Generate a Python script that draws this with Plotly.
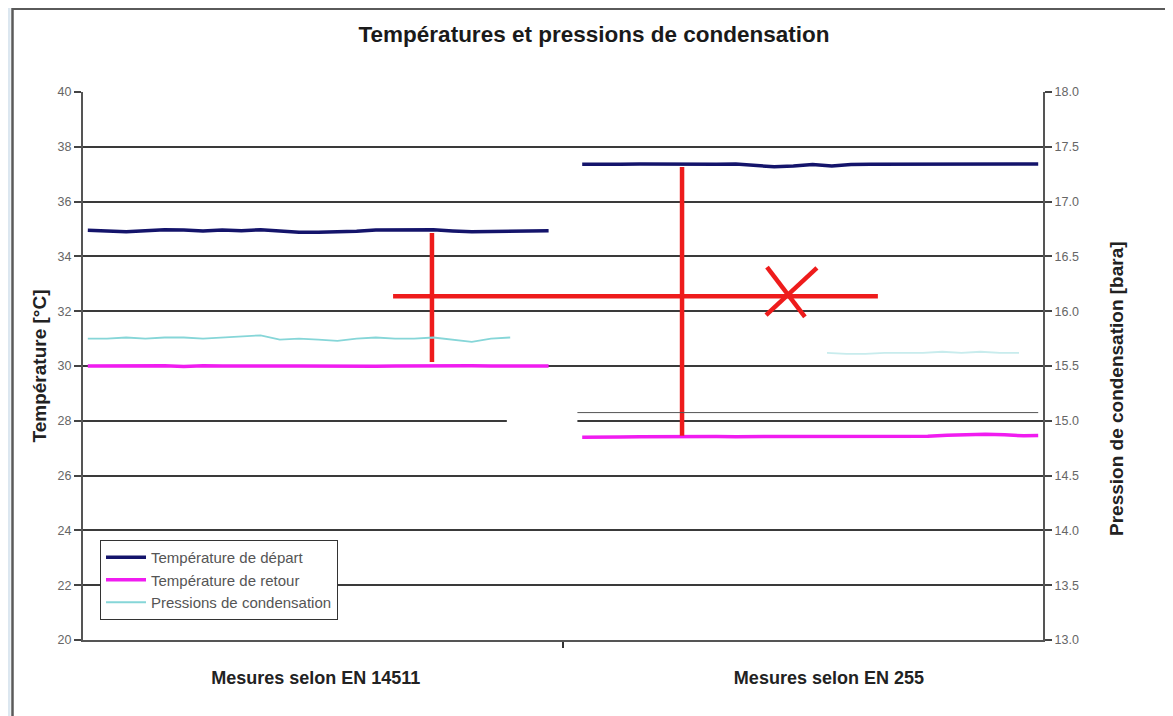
import plotly.graph_objects as go

# --- data ----------------------------------------------------------------
categories = ["Mesures selon EN 14511", "Mesures selon EN 255"]

x_left = [0.01, 0.05, 0.09, 0.13, 0.17, 0.21, 0.25, 0.29, 0.33, 0.37, 0.41, 0.45, 0.49,
          0.53, 0.57, 0.61, 0.65, 0.69, 0.73, 0.77, 0.81, 0.85, 0.89, 0.93, 0.97]
depart_left = [34.95, 34.93, 34.90, 34.94, 34.97, 34.96, 34.93, 34.96, 34.94, 34.97, 34.93, 34.88, 34.88,
               34.89, 34.92, 34.96, 34.96, 34.95, 34.97, 34.93, 34.90, 34.91, 34.92, 34.93, 34.94]
retour_left = [30.00, 30.01, 29.99, 30.00, 30.01, 29.98, 30.01, 30.00, 29.99, 30.01, 30.00, 30.00, 29.99,
               30.01, 30.00, 29.99, 30.00, 30.01, 29.99, 30.00, 30.01, 30.00, 29.99, 30.00, 30.00]
x_press_left = [0.01, 0.05, 0.09, 0.13, 0.17, 0.21, 0.25, 0.29, 0.33, 0.37, 0.41, 0.45,
                0.49, 0.53, 0.57, 0.61, 0.65, 0.69, 0.73, 0.77, 0.81, 0.85, 0.89]
press_left = [15.75, 15.75, 15.76, 15.75, 15.76, 15.76, 15.75, 15.76, 15.77, 15.78, 15.74, 15.75,
              15.74, 15.73, 15.75, 15.76, 15.75, 15.75, 15.76, 15.74, 15.72, 15.75, 15.76]

x_right = [1.04, 1.08, 1.12, 1.16, 1.20, 1.24, 1.28, 1.32, 1.36, 1.40, 1.44, 1.48, 1.52,
           1.56, 1.60, 1.64, 1.68, 1.72, 1.76, 1.80, 1.84, 1.88, 1.92, 1.96, 1.99]
depart_right = [37.36, 37.35, 37.36, 37.37, 37.36, 37.37, 37.35, 37.36, 37.37, 37.33, 37.27, 37.30, 37.35,
                37.30, 37.35, 37.36, 37.36, 37.37, 37.36, 37.35, 37.37, 37.34, 37.36, 37.37, 37.37]
retour_right = [27.40, 27.42, 27.41, 27.42, 27.43, 27.42, 27.42, 27.43, 27.42, 27.42, 27.41, 27.42, 27.42,
                27.43, 27.42, 27.42, 27.42, 27.43, 27.44, 27.47, 27.50, 27.51, 27.49, 27.45, 27.46]
x_press_right = [1.55, 1.59, 1.63, 1.67, 1.71, 1.75, 1.79, 1.83, 1.87, 1.91, 1.95]
press_right = [15.62, 15.61, 15.61, 15.62, 15.62, 15.62, 15.63, 15.62, 15.63, 15.62, 15.62]

# hand-drawn red overlay (data units)
red_h_x, red_h_y = [0.646, 1.656], [32.55, 32.55]
red_v1_x, red_v1_y = [0.727, 0.727], [34.85, 30.15]
red_v2_x, red_v2_y = [1.248, 1.248], [37.26, 27.45]
red_xa_x, red_xa_y = [1.425, 1.504], [33.61, 31.79]
red_xb_x, red_xb_y = [1.529, 1.423], [33.58, 31.86]

NAVY = "#14146b"
MAGENTA = "#f01cf0"
CYAN = "#86d6d8"
RED = "#ee1c1c"
FONT = "Liberation Sans"

# page is offset by the 8px body margin of the html page
OFF = 8
W, H = 1173 - OFF, 716 - OFF
L, R, T, B = 83, 1043, 92, 640   # plot area in page pixels


def px_x(px):
    return (px - L) / (R - L)


def px_y(py):
    return (B - py) / (B - T)


fig = go.Figure()

fig.add_trace(go.Scatter(x=x_left, y=depart_left, mode="lines", name="Température de départ",
                         legendgroup="d", line=dict(color=NAVY, width=3.5)))
fig.add_trace(go.Scatter(x=x_left, y=retour_left, mode="lines", name="Température de retour",
                         legendgroup="r", line=dict(color=MAGENTA, width=3.5)))
fig.add_trace(go.Scatter(x=x_press_left, y=press_left, mode="lines", name="Pressions de condensation",
                         legendgroup="p", yaxis="y2", line=dict(color=CYAN, width=1.8)))
fig.add_trace(go.Scatter(x=x_right, y=depart_right, mode="lines", legendgroup="d", showlegend=False,
                         line=dict(color=NAVY, width=3.5)))
fig.add_trace(go.Scatter(x=x_right, y=retour_right, mode="lines", legendgroup="r", showlegend=False,
                         line=dict(color=MAGENTA, width=3.5)))
fig.add_trace(go.Scatter(x=x_press_right, y=press_right, mode="lines", legendgroup="p", showlegend=False,
                         yaxis="y2", opacity=0.45, line=dict(color=CYAN, width=1.8)))

for xs, ys in [(red_h_x, red_h_y), (red_v1_x, red_v1_y), (red_v2_x, red_v2_y),
               (red_xa_x, red_xa_y), (red_xb_x, red_xb_y)]:
    fig.add_trace(go.Scatter(x=xs, y=ys, mode="lines", showlegend=False, hoverinfo="skip",
                             line=dict(color=RED, width=4.5)))

shapes = [
    # window frame around the picture
    dict(type="rect", xref="paper", yref="paper", x0=px_x(OFF), x1=px_x(10.5), y0=px_y(716), y1=px_y(OFF),
         fillcolor="#dce7f0", line_width=0, layer="below"),
    dict(type="line", xref="paper", yref="paper", x0=px_x(12.5), x1=px_x(12.5), y0=px_y(716), y1=px_y(OFF),
         line=dict(color="#5a5a5a", width=2.5)),
    dict(type="line", xref="paper", yref="paper", x0=px_x(12), x1=px_x(1173), y0=px_y(OFF + 1),
         y1=px_y(OFF + 1), line=dict(color="#5a5a5a", width=2)),
    dict(type="line", xref="paper", yref="paper", x0=px_x(1171.5), x1=px_x(1171.5), y0=px_y(716),
         y1=px_y(OFF), line=dict(color="#5a5a5a", width=2)),
    # pasted-in right half: gap in the 28 grid line and the extra line just above it
    dict(type="rect", xref="x", yref="y", x0=0.883, x1=1.03, y0=27.85, y1=28.15,
         fillcolor="white", line_width=0),
    dict(type="line", xref="x", yref="y", x0=1.03, x1=1.99, y0=28.3, y1=28.3,
         line=dict(color="#555", width=1)),
]

fig.update_layout(
    width=W, height=H,
    margin=dict(l=L - OFF, r=1173 - R, t=T - OFF, b=716 - B),
    paper_bgcolor="white", plot_bgcolor="white",
    font=dict(family=FONT, color="#222"),
    title=dict(text="<b>Températures et pressions de condensation</b>", x=(594 - OFF) / W,
               xanchor="center", y=1 - (34 - OFF) / H, yanchor="middle",
               font=dict(size=22.5, color="#1a1a1a")),
    xaxis=dict(range=[0, 2], tickvals=[0.485, 1.554], ticktext=["<b>%s</b>" % c for c in categories],
               ticks="", showgrid=False, zeroline=False, showline=True, linecolor="#555", linewidth=2,
               tickfont=dict(size=18, color="#222"), ticklabelstandoff=20,
               minor=dict(tickvals=[1], ticks="outside", ticklen=6, tickcolor="#333", tickwidth=1.5)),
    yaxis=dict(title=dict(text="<b>Température [°C]</b>", font=dict(size=19, color="#222"), standoff=6),
               range=[20, 40], dtick=2, ticks="outside", ticklen=7, tickcolor="#444", tickwidth=1.5,
               showline=True, linecolor="#555", linewidth=2, showgrid=True, gridcolor="#3a3a3a",
               gridwidth=1.5, zeroline=False, tickfont=dict(size=12.5, color="#666")),
    yaxis2=dict(overlaying="y", side="right", range=[13, 18], dtick=0.5, tickformat=".1f",
                ticks="outside", ticklen=7, tickcolor="#444", tickwidth=1.5, showline=True,
                linecolor="#555", linewidth=2, showgrid=False, zeroline=False,
                tickfont=dict(size=12.5, color="#666")),
    annotations=[dict(text="<b>Pression de condensation [bara]</b>", textangle=-90, showarrow=False,
                      xref="paper", yref="paper", x=px_x(1116), y=px_y(389),
                      xanchor="center", yanchor="middle", font=dict(size=19, color="#222"))],
    legend=dict(x=px_x(100), y=px_y(540), xanchor="left", yanchor="top", bgcolor="white",
                bordercolor="#333", borderwidth=1, font=dict(size=15, color="#555"),
                itemwidth=40, tracegroupgap=0),
    shapes=shapes,
)

fig.write_html("out.html")
